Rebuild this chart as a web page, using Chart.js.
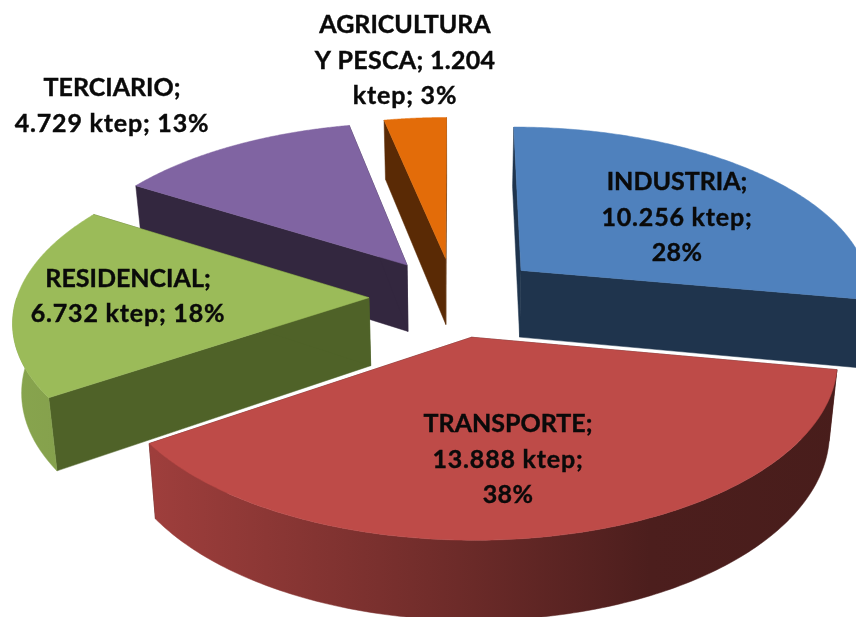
<!DOCTYPE html>
<html><head><meta charset="utf-8">
<style>html,body{margin:0;padding:0;background:#fff}canvas{display:block}</style>
<script src="https://cdn.jsdelivr.net/npm/chart.js@4"></script>
</head><body>
<canvas id="c" width="856" height="617"></canvas>
<script>
const categories = ['INDUSTRIA','TRANSPORTE','RESIDENCIAL','TERCIARIO','AGRICULTURA Y PESCA'];
const values = [10256,13888,6732,4729,1204];
const unit = 'ktep';
const topColors = ['#4F81BD','#BE4B48','#9BBB59','#8064A2','#E36C09'];
const cutColors = ['#1F344D','#4A1E1C','#4F6228','#33273F','#5A2A05'];
const explode = [89,84,85,84,84];
const labelLineWords = [[1,2,1],[1,2,1],[1,3],[1,3],[1,3,2]];
const labelAnchors = [[677,182],[508,424],[128,278.5],[112,88],[405,25]];

const TILT=0.475, PERSP=0.00035, DEPTH=68, CONVERGE=0.0003, LINE=35.5;
const project=(cx,cy,u,v,z=0)=>{
  const s=1/(1-PERSP*v);
  return [cx+s*u*(1-CONVERGE*z), cy+s*TILT*v+s*z];
};
const rgb=h=>[1,3,5].map(i=>parseInt(h.substr(i,2),16));
const shade=(h,f)=>{const c=rgb(h);return `rgb(${c.map(x=>Math.round(x*f)).join(',')})`;};
const SHADE_STOPS=[[0,.88],[.18,.83],[.5,.6],[.76,.4],[1,.38]];
const fmt=n=>String(n).replace(/\B(?=(\d{3})+$)/g,'.');

const pie3d={
  id:'pie3d',
  beforeDatasetsDraw(chart){
    const ctx=chart.ctx, meta=chart.getDatasetMeta(0);
    const items=meta.data.map((el,i)=>{
      const p=el.getProps(['x','y','startAngle','endAngle','outerRadius'],true);
      const mid=(p.startAngle+p.endAngle)/2, off=el.options.offset||0;
      return {i,p,mid,ou:Math.cos(mid)*off,ov:Math.sin(mid)*off};
    }).sort((a,b)=>Math.sin(a.mid)-Math.sin(b.mid));
    const poly=(pts,fill)=>{
      ctx.beginPath();pts.forEach((q,k)=>k?ctx.lineTo(q[0],q[1]):ctx.moveTo(q[0],q[1]));
      ctx.closePath();ctx.fillStyle=fill;ctx.fill();
      ctx.strokeStyle=fill;ctx.lineWidth=0.5;ctx.stroke();
    };
    items.forEach(({i,p,ou,ov})=>{
      const pt=(a,r,z)=>project(p.x,p.y,ou+Math.cos(a)*r,ov+Math.sin(a)*r,z);
      const N=160, R=p.outerRadius, arc=[];
      for(let k=0;k<=N;k++)arc.push(p.startAngle+(p.endAngle-p.startAngle)*k/N);
      // cut faces
      [p.startAngle,p.endAngle].forEach(a=>{
        poly([pt(a,0,0),pt(a,R,0),pt(a,R,DEPTH),pt(a,0,DEPTH)],cutColors[i]);
      });
      // outer rim, front facing part only
      const front=arc.filter(a=>Math.sin(a)>0);
      if(front.length>1){
        const g=ctx.createLinearGradient(0,0,chart.width,0);
        SHADE_STOPS.forEach(([o,f])=>g.addColorStop(o,shade(topColors[i],f)));
        poly(front.map(a=>pt(a,R,0)).concat(front.slice().reverse().map(a=>pt(a,R,DEPTH))),g);
      }
      // top face
      poly([pt(0,0,0)].concat(arc.map(a=>pt(a,R,0))),topColors[i]);
    });
    // data labels
    const total=values.reduce((a,b)=>a+b,0);
    ctx.fillStyle='#0a0a0a';ctx.strokeStyle='#0a0a0a';ctx.lineWidth=0.4;
    ctx.font='bold 25px Lato';
    ctx.textAlign='center';ctx.textBaseline='middle';
    categories.forEach((c,i)=>{
      const words=`${c}; ${fmt(values[i])} ${unit}; ${Math.round(values[i]/total*100)}%`.split(' ');
      let w=0;
      labelLineWords[i].forEach((n,l)=>{
        const s=words.slice(w,w+n).join(' ');
        ctx.letterSpacing=/[a-z]/.test(s)?'0.8px':/\d/.test(s)?'0.3px':'0px';
        const y=labelAnchors[i][1]+l*LINE;
        ctx.fillText(s,labelAnchors[i][0],y);
        ctx.strokeText(s,labelAnchors[i][0],y);
        w+=n;
      });
    });
    ctx.letterSpacing='0px';
    return false;
  }
};

new Chart(document.getElementById('c'),{
  type:'pie',
  data:{labels:categories,datasets:[{data:values,backgroundColor:topColors,offset:explode,borderWidth:0}]},
  options:{
    responsive:false,animation:false,radius:352,
    layout:{padding:{left:52,bottom:23}},
    plugins:{legend:{display:false},tooltip:{enabled:false}}
  },
  plugins:[pie3d]
});
</script>
</body></html>
